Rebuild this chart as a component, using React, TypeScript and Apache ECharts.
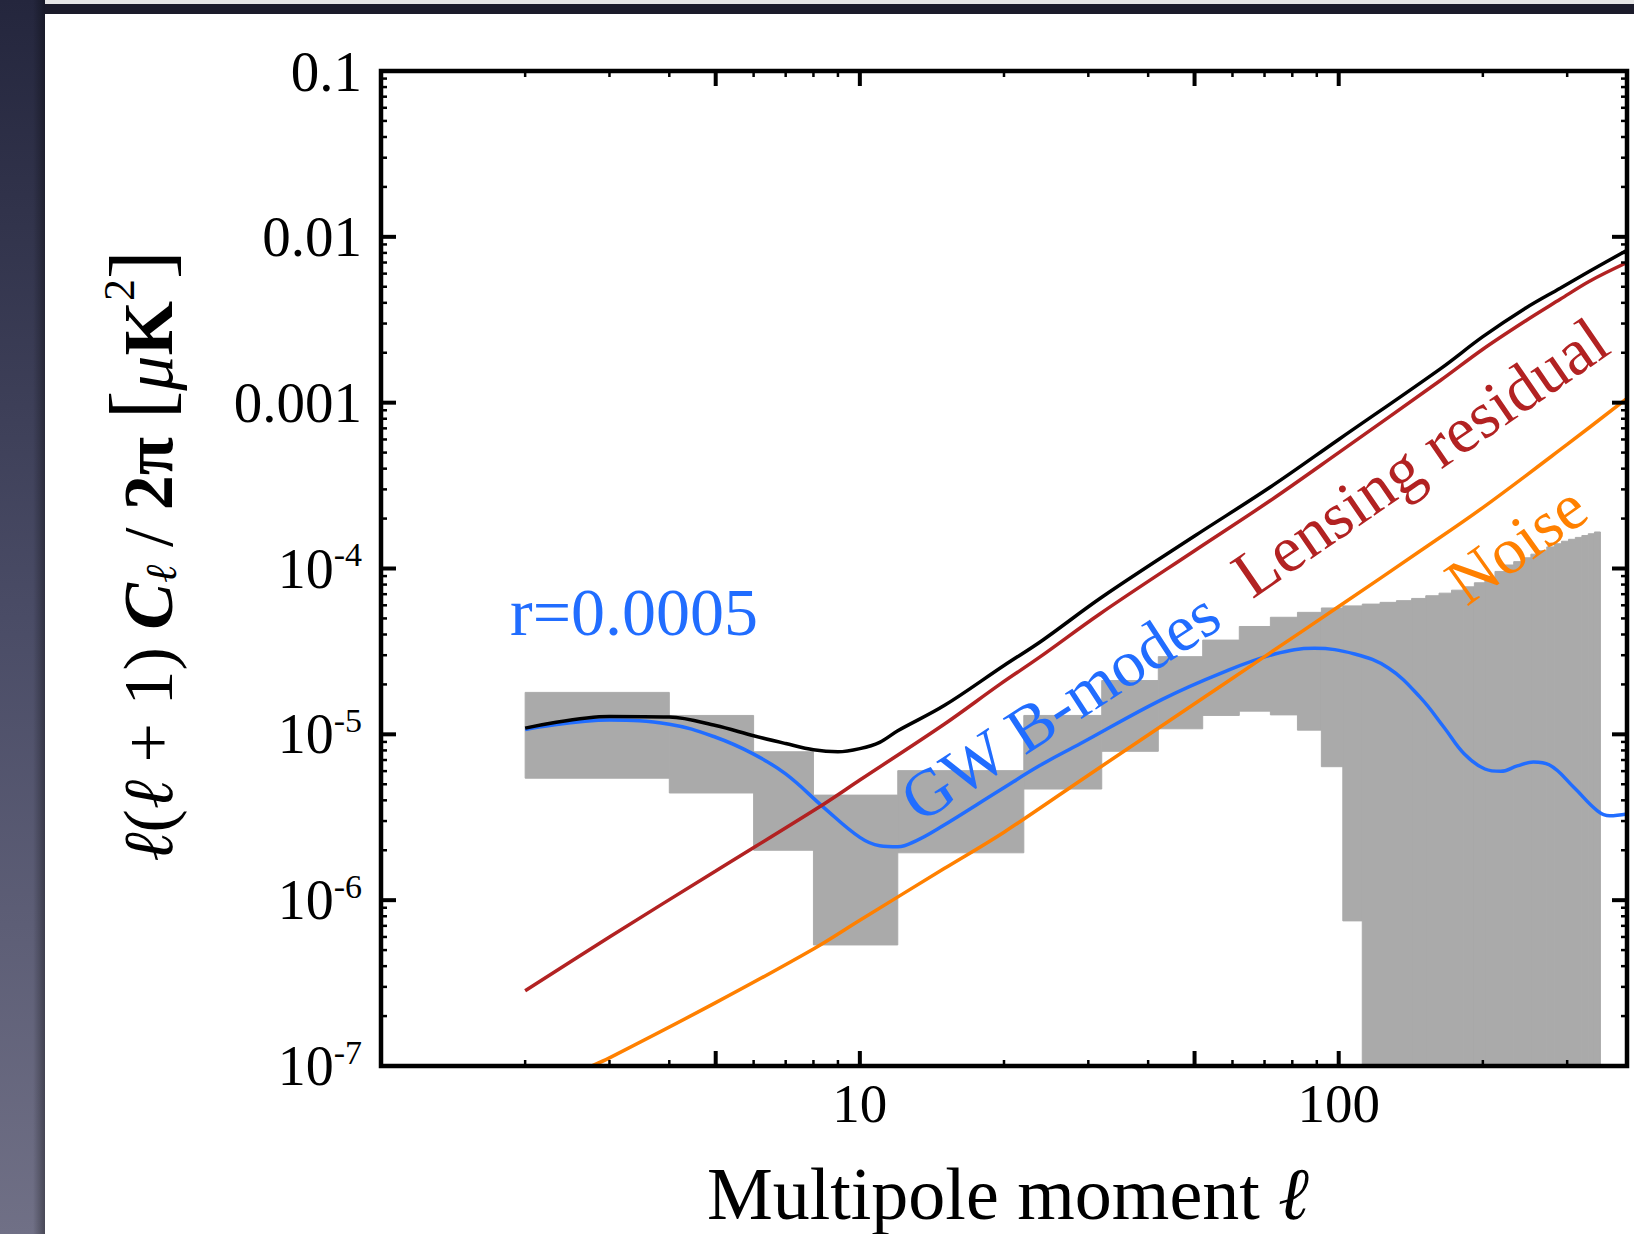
import React, { useEffect, useRef } from "react";
import * as echarts from "echarts";

// ---------------- data ----------------
const L_TOTAL = [2, 3, 4, 5, 6, 7, 8, 9, 10, 11, 12, 15, 20, 24, 32, 50, 72, 100, 163, 200, 245, 290, 334, 400];
const V_TOTAL = [1.09e-5, 1.28e-5, 1.27e-5, 1.13e-5, 9.8e-6, 8.8e-6, 8.07e-6, 7.85e-6, 8.2e-6, 8.95e-6, 1.05e-5, 1.49e-5, 2.6e-5, 3.67e-5, 6.71e-5, 1.57e-4, 3.1e-4, 6.0e-4, 1.6e-3, 2.5e-3, 3.7e-3, 4.9e-3, 6.2e-3, 8.3e-3];

const L_LENS = [2, 3, 5, 8.4, 10, 15, 19.6, 23.7, 31.7, 50, 72, 100, 163, 200, 245, 290, 334, 400];
const V_LENS = [2.84e-7, 6.0e-7, 1.5e-6, 3.79e-6, 5.3e-6, 1.15e-5, 2.0e-5, 2.91e-5, 5.32e-5, 1.28e-4, 2.57e-4, 5.0e-4, 1.36e-3, 2.1e-3, 3.1e-3, 4.2e-3, 5.4e-3, 7.0e-3];

const L_NOISE = [2.75, 3, 5, 8, 10, 15, 20, 30, 50, 70, 100, 150, 200, 300, 400];
const V_NOISE = [1.0e-7, 1.12e-7, 2.41e-7, 5.08e-7, 7.57e-7, 1.55e-6, 2.57e-6, 5.67e-6, 1.53e-5, 2.94e-5, 5.9e-5, 1.31e-4, 2.33e-4, 5.6e-4, 1.06e-3];

const L_GW = [2, 3, 4, 5, 6, 7, 8.4, 10, 11, 12, 13.1, 14.7, 19.6, 23.8, 28.9, 42.7, 57, 73.5, 89, 108, 127, 148, 166, 183, 202, 218, 236, 255, 275, 310, 347, 368, 400];
const V_GW = [1.07e-5, 1.22e-5, 1.15e-5, 9.6e-6, 7.6e-6, 5.77e-6, 3.63e-6, 2.39e-6, 2.13e-6, 2.1e-6, 2.28e-6, 2.74e-6, 4.6e-6, 6.5e-6, 8.8e-6, 1.62e-5, 2.35e-5, 3.05e-5, 3.3e-5, 3.05e-5, 2.51e-5, 1.67e-5, 1.1e-5, 7.6e-6, 6.18e-6, 5.98e-6, 6.45e-6, 6.8e-6, 6.55e-6, 4.78e-6, 3.46e-6, 3.23e-6, 3.31e-6];

// binned uncertainty band (gray boxes): bin edges in l, upper and lower value (0 = below the plot)
const BIN_EDGES = [2, 4, 6, 8, 12, 22, 32, 42, 52, 62, 72, 82, 92, 102, 112, 122, 132, 142, 152, 162, 172, 182, 192, 202, 212, 222, 232, 242, 252, 262, 272, 282, 292, 302, 312, 322, 332, 342, 352];
const BIN_TOP = [1.79e-5, 1.3e-5, 7.85e-6, 4.3e-6, 6.04e-6, 1.3e-5, 2.11e-5, 2.94e-5, 3.7e-5, 4.47e-5, 5.08e-5, 5.44e-5, 5.78e-5,
  5.95e-5, 6.1e-5, 6.25e-5, 6.4e-5, 6.6e-5, 6.85e-5, 7.1e-5, 7.4e-5, 7.75e-5, 8.2e-5, 8.8e-5, 9.6e-5, 1.05e-4, 1.1e-4, 1.16e-4, 1.22e-4, 1.28e-4, 1.35e-4, 1.41e-4, 1.46e-4, 1.5e-4, 1.54e-4, 1.58e-4, 1.62e-4, 1.66e-4];
const BIN_LOW = [5.44e-6, 4.43e-6, 2.0e-6, 5.37e-7, 1.93e-6, 4.68e-6, 7.9e-6, 1.08e-5, 1.3e-5, 1.38e-5, 1.31e-5, 1.06e-5, 6.38e-6,
  7.5e-7, 0, 0, 0, 0, 0, 0, 0, 0, 0, 0, 0, 0, 0, 0, 0, 0, 0, 0, 0, 0, 0, 0, 0, 0];

// ticks
const X_MIN = 1, X_MAX = 400, Y_MIN = 1e-7, Y_MAX = 0.1;
const X_MAJOR_TICKS = [5, 10, 50, 100];
const X_MINOR_TICKS = [2, 3, 4, 6, 7, 8, 9, 20, 30, 40, 60, 70, 80, 90, 200, 300];
const X_TICK_LABELS = [10, 100];
const Y_MAJOR_TICKS = [1e-6, 1e-5, 1e-4, 1e-3, 1e-2];
const Y_MINOR_MULTS = [2, 3, 4, 5, 6, 7, 8, 9];
const Y_DECADES = [1e-7, 1e-6, 1e-5, 1e-4, 1e-3, 1e-2];
const Y_TICK_EXP = [-1, -2, -3, -4, -5, -6, -7];
const Y_TICK_TEXT = ["0.1", "0.01", "0.001", "{b|10}{s|-4}", "{b|10}{s|-5}", "{b|10}{s|-6}", "{b|10}{s|-7}"];

// ---------------- style ----------------
const SERIF = '"Liberation Serif", "Times New Roman", Times, serif';
const BLUE = "#216dff";
const RED = "#b22222";
const ORANGE = "#ff8000";
const GRAY = "#aaaaaa";

function pairs(xs: number[], ys: number[]) {
  return xs.map((x, i) => [x, ys[i]]);
}

function buildOption() {
  const boxData = BIN_TOP.map((t, i) => [BIN_EDGES[i], BIN_EDGES[i + 1], t, BIN_LOW[i]]);

  const tickData: number[][] = [];
  X_MAJOR_TICKS.forEach((v) => tickData.push([v, Y_MIN, 0, 1]));
  X_MINOR_TICKS.forEach((v) => tickData.push([v, Y_MIN, 0, 0]));
  Y_MAJOR_TICKS.forEach((v) => tickData.push([X_MIN, v, 1, 1]));
  Y_DECADES.forEach((d) => Y_MINOR_MULTS.forEach((m) => tickData.push([X_MIN, d * m, 1, 0])));
  tickData.push([X_MIN, Y_MIN, 2, 0]);

  const lineBase = (name: string, data: number[][], color: string, z: number, smooth: number) => ({
    name,
    type: "line",
    data,
    showSymbol: false,
    smooth,
    clip: true,
    silent: true,
    z,
    lineStyle: { color, width: 3.5 },
  });

  return {
    animation: false,
    backgroundColor: "#ffffff",
    grid: { left: 381, top: 71, width: 1246, height: 995, containLabel: false },
    xAxis: {
      type: "log",
      logBase: 10,
      min: X_MIN,
      max: X_MAX,
      splitNumber: 3,
      axisLine: { show: false },
      axisTick: { show: false },
      splitLine: { show: false },
      axisLabel: {
        margin: 10,
        fontFamily: SERIF,
        fontSize: 55,
        color: "#000",
        showMaxLabel: false,
        formatter: (v: number) => {
          const r = Math.round(v);
          return Math.abs(v - r) < 1e-6 && X_TICK_LABELS.indexOf(r) >= 0 ? String(r) : "";
        },
      },
    },
    yAxis: {
      type: "log",
      logBase: 10,
      min: Y_MIN,
      max: Y_MAX,
      splitNumber: 6,
      axisLine: { show: false },
      axisTick: { show: false },
      splitLine: { show: false },
      axisLabel: {
        margin: 19,
        fontFamily: SERIF,
        fontSize: 57,
        color: "#000",
        formatter: (v: number) => {
          const e = Math.round(Math.log10(v));
          const idx = Y_TICK_EXP.indexOf(e);
          return idx >= 0 ? Y_TICK_TEXT[idx] : "";
        },
        rich: {
          b: { fontFamily: SERIF, fontSize: 56, color: "#000", lineHeight: 62 },
          s: { fontFamily: SERIF, fontSize: 34, color: "#000", lineHeight: 40, verticalAlign: "top" },
        },
      },
    },
    graphic: [
      {
        type: "rect",
        z: 0,
        shape: { x: 0, y: 0, width: 45, height: 1234 },
        style: {
          fill: new echarts.graphic.LinearGradient(0, 0, 0, 1, [
            { offset: 0, color: "#24263d" },
            { offset: 0.5, color: "#4a4c66" },
            { offset: 1, color: "#707086" },
          ]),
        },
      },
      {
        type: "rect",
        z: 0,
        shape: { x: 33, y: 0, width: 12, height: 1234 },
        style: {
          fill: new echarts.graphic.LinearGradient(0, 0, 1, 0, [
            { offset: 0, color: "rgba(0,0,0,0)" },
            { offset: 1, color: "rgba(0,0,0,0.35)" },
          ]),
        },
      },
      { type: "rect", z: 0, shape: { x: 45, y: 0, width: 1589, height: 4 }, style: { fill: "#e6e6e6" } },
      { type: "rect", z: 0, shape: { x: 45, y: 4, width: 1589, height: 10 }, style: { fill: "#1b1b2a" } },
      {
        type: "text",
        z: 20,
        x: 140,
        y: 556,
        rotation: Math.PI / 2,
        style: {
          text: "{i|ℓ}{n|(}{i|ℓ}{n| + 1) }{c|C}{sub|ℓ}{n| / }{b|2π}{n| }{br|[}{i|μ}{b|K}{sup|2}{br|]}",
          align: "center",
          verticalAlign: "middle",
          fill: "#000",
          rich: {
            n: { fontFamily: SERIF, fontSize: 70, lineHeight: 86, verticalAlign: "bottom", fill: "#000" },
            i: { fontFamily: SERIF, fontStyle: "italic", fontSize: 70, lineHeight: 86, verticalAlign: "bottom", fill: "#000" },
            c: { fontFamily: SERIF, fontStyle: "italic", fontWeight: "bold", fontSize: 70, lineHeight: 86, verticalAlign: "bottom", fill: "#000" },
            b: { fontFamily: SERIF, fontWeight: "bold", fontSize: 70, lineHeight: 86, verticalAlign: "bottom", fill: "#000" },
            sub: { fontFamily: SERIF, fontStyle: "italic", fontSize: 44, lineHeight: 22, verticalAlign: "bottom", fill: "#000" },
            sup: { fontFamily: SERIF, fontSize: 44, lineHeight: 44, verticalAlign: "top", fill: "#000" },
            br: { fontFamily: SERIF, fontSize: 86, lineHeight: 86, verticalAlign: "bottom", fill: "#000" },
          },
        },
      },
      {
        type: "text",
        z: 20,
        x: 1008,
        y: 1194,
        style: {
          text: "{n|Multipole moment }{i|ℓ}",
          align: "center",
          verticalAlign: "middle",
          fill: "#000",
          rich: {
            n: { fontFamily: SERIF, fontSize: 74, fill: "#000" },
            i: { fontFamily: SERIF, fontStyle: "italic", fontSize: 74, fill: "#000" },
          },
        },
      },
      {
        type: "text",
        z: 20,
        x: 510,
        y: 612,
        style: { text: "r=0.0005", fontFamily: SERIF, fontSize: 68, fill: BLUE, align: "left", verticalAlign: "middle" },
      },
      {
        type: "text",
        z: 20,
        x: 1060,
        y: 706,
        rotation: (33 * Math.PI) / 180,
        style: { text: "GW B-modes", fontFamily: SERIF, fontSize: 66, fill: BLUE, align: "center", verticalAlign: "middle" },
      },
      {
        type: "text",
        z: 20,
        x: 1420,
        y: 457,
        rotation: (34.5 * Math.PI) / 180,
        style: { text: "Lensing residual", fontFamily: SERIF, fontSize: 66, fill: RED, align: "center", verticalAlign: "middle" },
      },
      {
        type: "text",
        z: 20,
        x: 1516,
        y: 544,
        rotation: (35.5 * Math.PI) / 180,
        style: { text: "Noise", fontFamily: SERIF, fontSize: 66, fill: ORANGE, align: "center", verticalAlign: "middle" },
      },
    ],
    series: [
      {
        name: "band",
        type: "custom",
        silent: true,
        z: 1,
        data: boxData,
        encode: { x: [0, 1], y: 2 },
        renderItem: (params: any, api: any) => {
          const l0 = api.value(0), l1 = api.value(1), top = api.value(2), low = api.value(3);
          const p0 = api.coord([l0, top]);
          const p1 = api.coord([l1, low > 0 ? low : Y_MIN]);
          const cs = params.coordSys;
          const shape = echarts.graphic.clipRectByRect(
            { x: p0[0], y: p0[1], width: p1[0] - p0[0], height: p1[1] - p0[1] },
            { x: cs.x, y: cs.y, width: cs.width, height: cs.height }
          );
          return shape ? { type: "rect", shape, style: { fill: GRAY, stroke: GRAY, lineWidth: 1 } } : null;
        },
      },
      lineBase("GW B-modes", pairs(L_GW, V_GW), BLUE, 2, 0.4),
      lineBase("Total", pairs(L_TOTAL, V_TOTAL), "#000000", 3, 0.35),
      lineBase("Lensing residual", pairs(L_LENS, V_LENS), RED, 4, 0.35),
      lineBase("Noise", pairs(L_NOISE, V_NOISE), ORANGE, 5, 0.35),
      {
        name: "frame",
        type: "custom",
        silent: true,
        z: 10,
        data: tickData,
        encode: { x: 0, y: 1 },
        renderItem: (params: any, api: any) => {
          const cs = params.coordSys;
          const kind = api.value(2);
          const major = api.value(3) === 1;
          const len = major ? 15 : 6;
          const w = major ? 4 : 2.5;
          const st = { stroke: "#000", lineWidth: w };
          if (kind === 0) {
            const px = api.coord([api.value(0), Y_MIN])[0];
            const yb = cs.y + cs.height;
            return {
              type: "group",
              children: [
                { type: "line", shape: { x1: px, y1: yb, x2: px, y2: yb - len }, style: st },
                { type: "line", shape: { x1: px, y1: cs.y, x2: px, y2: cs.y + len }, style: st },
              ],
            };
          }
          if (kind === 1) {
            const py = api.coord([X_MIN, api.value(1)])[1];
            const xr = cs.x + cs.width;
            return {
              type: "group",
              children: [
                { type: "line", shape: { x1: cs.x, y1: py, x2: cs.x + len, y2: py }, style: st },
                { type: "line", shape: { x1: xr, y1: py, x2: xr - len, y2: py }, style: st },
              ],
            };
          }
          return {
            type: "rect",
            shape: { x: cs.x, y: cs.y, width: cs.width, height: cs.height },
            style: { fill: "none", stroke: "#000", lineWidth: 4.5 },
          };
        },
      },
    ],
  };
}

export default function App() {
  const ref = useRef<HTMLDivElement>(null);
  useEffect(() => {
    const chart = echarts.init(ref.current as HTMLDivElement, null, { renderer: "svg" });
    chart.setOption(buildOption() as any);
    return () => chart.dispose();
  }, []);
  return (
    <div
      ref={ref}
      style={{ position: "absolute", left: 0, top: 0, width: 1634, height: 1234, background: "#fff" }}
    />
  );
}
